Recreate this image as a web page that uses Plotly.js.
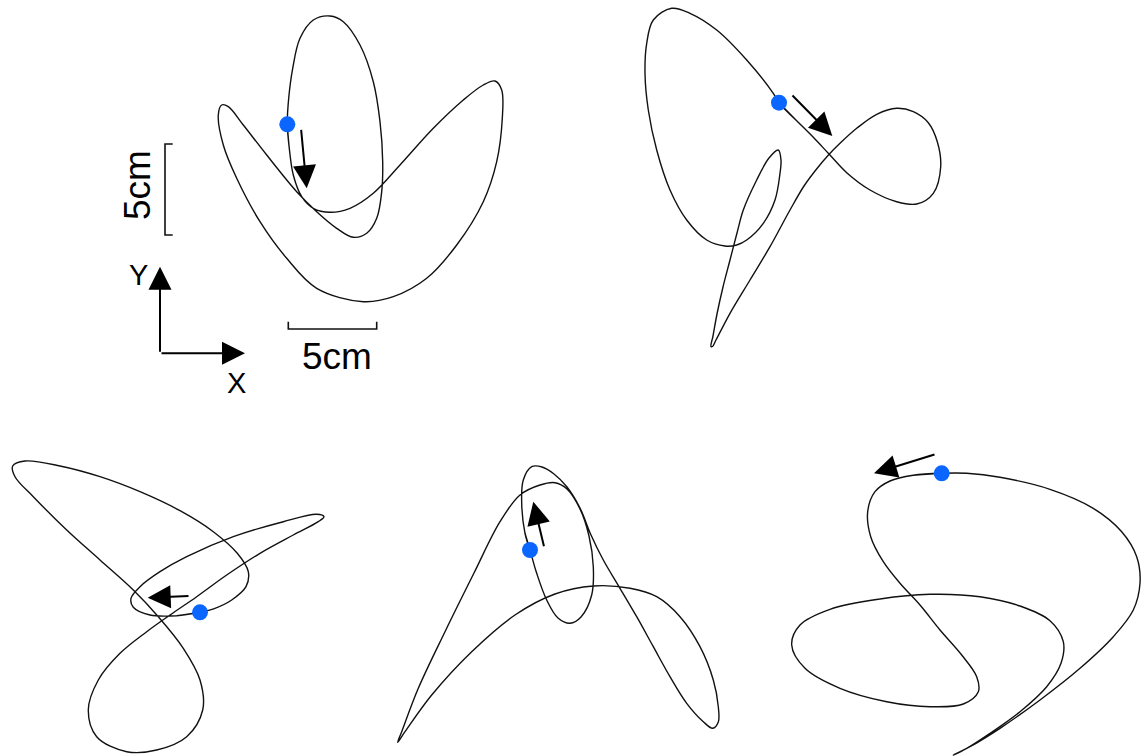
<!DOCTYPE html>
<html><head><meta charset="utf-8">
<script src="https://cdn.plot.ly/plotly-3.0.1.min.js"></script>
<style>html,body{margin:0;padding:0;background:#fff;}#chart{width:1147px;height:756px;}</style>
</head><body><div id="chart"></div>
<script>
// Traced trajectories (page-pixel coordinates)
const path1X = [287.3,289.3,293.3,301.7,313.3,330,350,373.3,400,433.3,463.3,483.3,495,501.7,502.3,496.7,483.3,456.7,426.7,393.3,363.3,316.7,286.7,260,236.7,223.3,218.3,221.7,228.3,243.3,266.7,296.7,316.7,336.7,353.3,366.7,376.7,381.7,382.7,380,373.3,360,343.3,330,313.3,300,292.7,288.7];
const path1Y = [124.3,148.3,175,196.7,208.3,212.3,208.3,193.3,165,128.3,100,85,81,90,118.3,161.7,201.7,245,278.3,296.7,301.7,288.3,258.3,221.7,178.3,145,115,105,106.7,125,155,191.7,211.7,228.3,237.3,233.3,218.3,191.7,161.7,121.7,81.7,45,21.7,16,20,38.3,68.3,98.3];

const path2X = [779,796.7,813.3,829,846.7,870,896.7,916.7,933.3,940.7,937.3,928.3,913.3,896.7,876.7,856.7,840,828,817,804,790,770,750,730,716,712.5,711,713,717,723,730,737,743.3,756.7,769,778.3,781,780,775,763.3,746.7,736.7,725,706.7,686.7,670,656.7,648.3,645,646.7,653.3,671.7,690,716.7,746.7,773.3];
const path2Y = [102.7,120.7,137.3,154,172.7,190,201.7,204,193.3,166.7,141.7,122.7,111.7,108.3,114.3,128.3,143.3,155.5,168.5,186,210,246.7,280,313.3,340,346.5,346.5,336,314,287,260,233,210,180,158,150,160,173.3,200,223.3,240,245,246,240,220,190,150,110,73.3,43.3,20,8.3,13.3,30,60,93.3];

const path3X = [200,176.7,150,133.3,131,140,160,186.7,233.3,283.3,316.7,324,318.3,293.3,260,226.7,196.7,170,146.7,120,98.3,88.3,96.7,126.7,156.7,186.7,202.7,200,183.3,158.3,133.3,100,66.7,33.3,15,12.7,25,60,100,140,180,213.3,237.3,248.3,246,231.7,215];
const path3Y = [612.3,615.7,615,607.3,598.3,586.7,571.7,556.7,536.7,521.7,514.3,516.7,521.7,535,553.3,575,596.7,615,631.7,653.3,680,710,736.7,751.7,750,736.7,710,680,648.3,616.7,590,560,530,496.7,476.7,466,461,466,476.7,491.7,510.7,531.7,553.3,571.7,586.7,600,608.3];

const path4X = [530,525,521.7,523.3,531.7,542,554,567,580,591,603.3,620,636.7,653.3,670,686.7,703.3,712.7,718.3,718.3,713.3,700,680,656.7,630,593.3,555,515,471.7,431.7,405,397.7,401.7,418.3,445,474,500,520,540,555,567,580,589,593.3,591.7,581,570,558,546.7,536.7];
const path4Y = [550,533.3,503.3,480,466.7,467,474,487,508,535,560,588.3,616.7,646.7,676.7,703.3,721.7,728.3,722,706.7,680,646.7,616.7,596.7,588.3,586,594,615,651.7,695,731.7,742.3,731.7,688.3,631.7,573,521.7,495,485,482.7,489,509,536,566.7,595,617,623.3,618,600,573.3];

const path5X = [941.7,913.3,890,875,867.7,870.7,883.3,900,920,940,961.7,976.7,978.3,963.3,930,886.7,840,805,791.7,800,830,880,930,980,1020,1050,1063.3,1061,1046.7,1020,990,966.7,953.3,970,1000,1040,1080,1113.3,1133.3,1140,1136.7,1121.7,1093.3,1050,1000,966.7];
const path5Y = [473.3,475.3,481,491.7,511.7,536.7,561.7,583.3,605,630,655,676.7,691.7,704,706.7,701.7,688.3,668.3,645,625,609.3,599,594.3,596.7,606,620.7,641.7,663.3,686.7,711.7,733.3,748.3,755,746.7,728.3,700,668.3,636.7,610,583.3,556.7,531.7,508.3,489.3,477.3,473.3];

// Start points (blue dots)
const dotX = [287.3, 779, 200, 530, 941.7];
const dotY = [124.3, 102.7, 612.3, 550, 473.3];

// Direction arrows and X/Y axis arrows: tail -> head
const arrowTailX = [301, 791, 190, 544.3, 936, 160, 160];
const arrowTailY = [128.3, 94, 596, 547.7, 454, 353.3, 353.3];
const arrowHeadX = [306.7, 832.3, 147.7, 533.3, 874, 160, 245];
const arrowHeadY = [188.3, 136, 597.7, 501.7, 473.3, 266.7, 353.3];

// Scale bars
const vBarX = [172.7, 165, 165, 172.7];
const vBarY = [144, 144, 235, 235];
const hBarX = [288.3, 288.3, 376.7, 376.7];
const hBarY = [321.7, 329, 329, 321.7];

// Labels
const labelText = ['5cm', '5cm', 'Y', 'X'];
const labelX = [137, 336.5, 138, 236];
const labelY = [185, 356, 275, 383];
const labelAngle = [-90, 0, 0, 0];
const labelSize = [37, 37, 29, 29];

const paths = [[path1X,path1Y],[path2X,path2Y],[path3X,path3Y],[path4X,path4Y],[path5X,path5Y]];
const traces = paths.map(([px,py]) => ({
  type:'scatter', mode:'lines',
  x: px.concat([px[0], px[1]]), y: py.concat([py[0], py[1]]),
  line:{color:'#111', width:1.4, shape:'spline', smoothing:1.0},
  hoverinfo:'skip'
}));
traces.push({type:'scatter', mode:'lines', x:vBarX, y:vBarY, line:{color:'#111', width:1.6}, hoverinfo:'skip'});
traces.push({type:'scatter', mode:'lines', x:hBarX, y:hBarY, line:{color:'#111', width:1.6}, hoverinfo:'skip'});
traces.push({type:'scatter', mode:'markers', x:dotX, y:dotY, marker:{color:'#0a66ff', size:16, line:{width:0}}, hoverinfo:'skip'});

const annotations = arrowHeadX.map((hx,i) => ({
  x: hx, y: arrowHeadY[i], ax: arrowTailX[i], ay: arrowTailY[i],
  xref:'x', yref:'y', axref:'x', ayref:'y',
  text:'', showarrow:true, arrowhead:2, arrowsize:2.3, arrowwidth:2, arrowcolor:'#000', standoff:0, startstandoff:0
}));
labelText.forEach((t,i) => annotations.push({
  x: labelX[i], y: labelY[i], xref:'x', yref:'y', text:t, showarrow:false,
  textangle: labelAngle[i], xanchor:'center', yanchor:'middle',
  font:{family:'Liberation Sans, Arial, sans-serif', size:labelSize[i], color:'#000'}
}));

const layout = {
  width:1147, height:756, margin:{l:0,r:0,t:0,b:0},
  paper_bgcolor:'#fff', plot_bgcolor:'#fff', showlegend:false,
  xaxis:{range:[0,1147], visible:false, fixedrange:true},
  yaxis:{range:[756,0], visible:false, fixedrange:true},
  annotations: annotations
};
Plotly.newPlot('chart', traces, layout, {staticPlot:true, displayModeBar:false});
</script>
</body></html>
